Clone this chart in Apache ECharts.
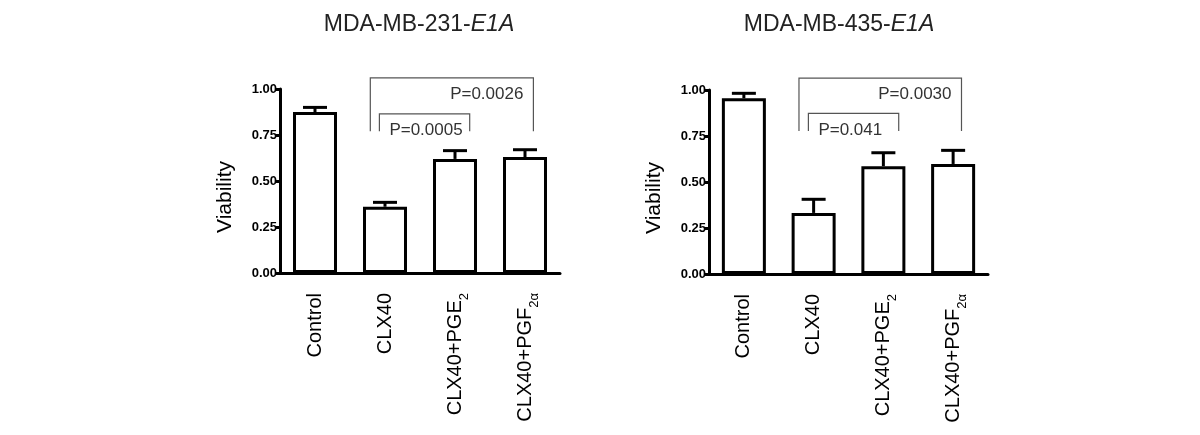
<!DOCTYPE html>
<html><head><meta charset="utf-8">
<script src="https://cdn.jsdelivr.net/npm/echarts@6/dist/echarts.min.js"></script>
<style>html,body{margin:0;padding:0;background:#fff}#c{width:1200px;height:435px}</style>
</head><body><div id="c"></div>
<script>
// ---- data ----
const catBase = ['Control', 'CLX40', 'CLX40+PGE', 'CLX40+PGF'];
const catSub = ['', '', '2', '2\u03b1'];
const categories = catBase.map((b, i) => b + catSub[i]);
const yTicks = [0, 0.25, 0.5, 0.75, 1.0];

const titleLeft = ['MDA-MB-231-', 'E1A'];
const titleRight = ['MDA-MB-435-', 'E1A'];

const meanLeft = [0.875, 0.36, 0.62, 0.63];
const errLeft = [0.025, 0.024, 0.045, 0.04];
const meanRight = [0.955, 0.332, 0.586, 0.598];
const errRight = [0.027, 0.074, 0.073, 0.074];

// brackets: [x1 (category units), x2, top, legBottom, labelY]
const bracketsLeft = [[0.79, 3.12, 1.06, 0.77, 0.971], [0.92, 2.21, 0.865, 0.77, 0.777]];
const bracketLabelsLeft = ['P=0.0026', 'P=0.0005'];
const bracketsRight = [[0.79, 3.12, 1.064, 0.777, 0.975], [0.925, 2.22, 0.873, 0.777, 0.78]];
const bracketLabelsRight = ['P=0.0030', 'P=0.041'];
const bracketAlign = ['right', 'left'];

// ---- chart ----
const FONT = '"Liberation Sans", Arial, sans-serif';
const chart = echarts.init(document.getElementById('c'));

function xCat(gi) {
  return {
    type: 'category', gridIndex: gi, data: categories,
    boundaryGap: true,
    axisLine: {onZero: false, lineStyle: {color: '#000', width: 3}},
    axisTick: {alignWithLabel: true, length: 5, lineStyle: {width: 3, color: '#000'}},
    axisLabel: {
      rotate: 90, margin: 20, color: '#000', fontFamily: FONT,
      formatter: function (v, i) {
        return catSub[i] ? '{n|' + catBase[i] + '}{s|' + catSub[i] + '}' : '{n|' + v + '}';
      },
      rich: {
        n: {fontSize: 20, lineHeight: 24, fontFamily: FONT, color: '#000'},
        s: {fontSize: 13, lineHeight: 13, verticalAlign: 'bottom', fontFamily: FONT, color: '#000', padding: [0, 0, -4, 0]}
      }
    },
    splitLine: {show: false}
  };
}
function xVal(gi) {
  return {type: 'value', gridIndex: gi, min: -0.5, max: 3.5, show: false,
    axisLine: {onZero: false}, splitLine: {show: false}};
}
function yAx(gi) {
  return {
    type: 'value', gridIndex: gi, min: 0, max: 1, interval: 0.25,
    name: 'Viability', nameLocation: 'middle', nameGap: 44,
    nameTextStyle: {fontSize: 21, color: '#000', fontFamily: FONT, padding: [0, 32, 0, 0]},
    axisLine: {show: true, onZero: false, lineStyle: {color: '#000', width: 3}},
    axisTick: {show: true, length: 5, lineStyle: {width: 3, color: '#000'}},
    axisLabel: {fontSize: 13, fontWeight: 'bold', color: '#000', fontFamily: FONT, margin: 3,
      formatter: v => v.toFixed(2)},
    splitLine: {show: false}
  };
}
function barSeries(gi, means) {
  return {
    type: 'bar', xAxisIndex: gi, yAxisIndex: gi, data: means, barWidth: 44,
    itemStyle: {color: '#fff', borderColor: '#000', borderWidth: 3},
    label: {show: false}, silent: true, z: 2
  };
}
function errSeries(gi, means, errs) {
  return {
    type: 'custom', xAxisIndex: gi + 2, yAxisIndex: gi, z: 3, silent: true, clip: false,
    data: means.map((m, i) => [i, m, errs[i]]),
    encode: {x: 0, y: 1},
    renderItem: function (params, api) {
      const x = api.value(0), m = api.value(1), e = api.value(2);
      const p0 = api.coord([x, m]);
      const p1 = api.coord([x, m + e]);
      const hw = 12;
      return {type: 'group', children: [
        {type: 'line', shape: {x1: p0[0], y1: p0[1], x2: p1[0], y2: p1[1]}, style: {stroke: '#000', lineWidth: 3}},
        {type: 'line', shape: {x1: p1[0] - hw, y1: p1[1], x2: p1[0] + hw, y2: p1[1]}, style: {stroke: '#000', lineWidth: 3}}
      ]};
    }
  };
}
function bracketSeries(gi, brackets, labels) {
  return {
    type: 'custom', xAxisIndex: gi + 2, yAxisIndex: gi, z: 4, silent: true, clip: false,
    data: brackets,
    encode: {x: 0, y: 2},
    renderItem: function (params, api) {
      const i = params.dataIndex;
      const x1 = api.value(0), x2 = api.value(1), top = api.value(2), bot = api.value(3), ly = api.value(4);
      const a = api.coord([x1, bot]), b = api.coord([x1, top]), c = api.coord([x2, top]), d = api.coord([x2, bot]);
      const al = bracketAlign[i];
      const lp = api.coord([al === 'right' ? x2 : x1, ly]);
      return {type: 'group', children: [
        {type: 'polyline', shape: {points: [a, b, c, d]}, style: {stroke: '#555', lineWidth: 1.2, fill: null}},
        {type: 'text', x: lp[0] + (al === 'right' ? -10 : 10), y: lp[1],
          style: {text: labels[i], fontSize: 17, fontFamily: FONT, fill: '#333', align: al, verticalAlign: 'middle'}}
      ]};
    }
  };
}
function titleOpt(parts, cx) {
  return {text: '{a|' + parts[0] + '}{b|' + parts[1] + '}', left: cx, top: 8, textAlign: 'center',
    textStyle: {fontWeight: 'normal', rich: {
      a: {fontSize: 23, fontFamily: FONT, fontWeight: 'normal', color: '#222'},
      b: {fontSize: 23, fontFamily: FONT, fontWeight: 'normal', fontStyle: 'italic', color: '#222'}}}};
}

chart.setOption({
  backgroundColor: '#fff',
  animation: false,
  title: [titleOpt(titleLeft, 414), titleOpt(titleRight, 834)],
  grid: [
    {left: 280, width: 280, top: 89, height: 184},
    {left: 709, width: 279, top: 90, height: 184}
  ],
  xAxis: [xCat(0), xCat(1), xVal(0), xVal(1)],
  yAxis: [yAx(0), yAx(1)],
  series: [
    barSeries(0, meanLeft), errSeries(0, meanLeft, errLeft), bracketSeries(0, bracketsLeft, bracketLabelsLeft),
    barSeries(1, meanRight), errSeries(1, meanRight, errRight), bracketSeries(1, bracketsRight, bracketLabelsRight)
  ]
});
</script>
</body></html>
